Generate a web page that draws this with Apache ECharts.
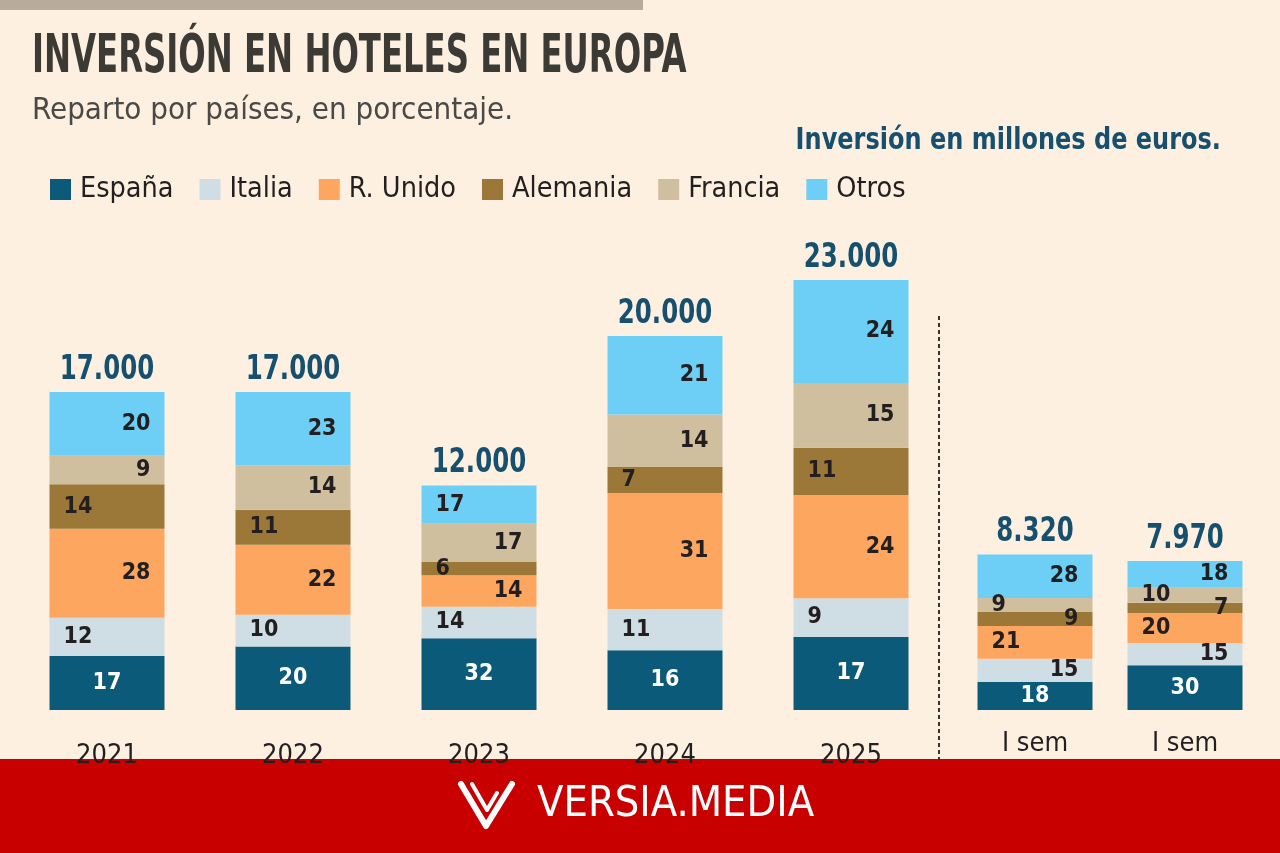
<!DOCTYPE html>
<html>
<head>
<meta charset="utf-8">
<title>Inversión en hoteles en Europa</title>
<script src="https://cdn.jsdelivr.net/npm/echarts@6/dist/echarts.min.js"></script>
<style>
  html, body { margin: 0; padding: 0; background: #fdf0e1; }
  #chart { width: 1280px; height: 853px; }
</style>
</head>
<body>
<div id="chart"></div>
<script>
(function () {
  "use strict";

  // Column labels: five full years, then the two first-half comparisons.
  var CATEGORIES = ["2021", "2022", "2023", "2024", "2025", "I sem", "I sem"];
  // Total investment per column, millions of euros.
  var TOTALS = [17000, 17000, 12000, 20000, 23000, 8320, 7970];

  // Share of each country, in percent, per column.
  var ESPANA   = [17, 20, 32, 16, 17, 18, 30];
  var ITALIA   = [12, 10, 14, 11,  9, 15, 15];
  var RUNIDO   = [28, 22, 14, 31, 24, 21, 20];
  var ALEMANIA = [14, 11,  6,  7, 11,  9,  7];
  var FRANCIA  = [ 9, 14, 17, 14, 15,  9, 10];
  var OTROS    = [20, 23, 17, 21, 24, 28, 18];

  var COUNTRIES = [
    { name: "España",   pct: ESPANA,   color: "#0c5a7a", text: "#ffffff" },
    { name: "Italia",   pct: ITALIA,   color: "#cfdee5", text: "#231f20" },
    { name: "R. Unido", pct: RUNIDO,   color: "#fca65f", text: "#231f20" },
    { name: "Alemania", pct: ALEMANIA, color: "#9b7838", text: "#231f20" },
    { name: "Francia",  pct: FRANCIA,  color: "#d0bf9f", text: "#231f20" },
    { name: "Otros",    pct: OTROS,    color: "#6dcff6", text: "#231f20" }
  ];

  // Where the percentage sits inside each segment (L / C / R), per country.
  var LABEL_SIDE = [
    "CCCCCCC",
    "LLLLLRR",
    "RRRRRLL",
    "LLLLLRR",
    "RRRRRLL",
    "RRLRRRR"
  ];

  // No real narrow face is installed; DejaVu Condensed is the closest, and
  // the headline texts get squeezed with scaleX to hit the original widths.
  var NARROW = "'Liberation Sans Narrow', 'DejaVu Sans Condensed', 'Roboto Condensed', sans-serif";
  var TEAL = "#16506e";
  var INK = "#231f20";
  var SPLIT = 5; // first five columns go in the left grid

  function fmtThousands(v) {
    return String(v).replace(/\B(?=(\d{3})+(?!\d))/g, ".");
  }

  function sidePos(ch) {
    if (ch === "L") return "insideLeft";
    if (ch === "R") return "insideRight";
    return "inside";
  }

  function barSeries(c, ci, gridIdx, from, to) {
    var data = [];
    for (var i = from; i < to; i++) {
      data.push({
        value: TOTALS[i] * c.pct[i] / 100,
        label: { position: sidePos(LABEL_SIDE[ci].charAt(i)) }
      });
    }
    return {
      name: c.name,
      type: "bar",
      stack: "g" + gridIdx,
      xAxisIndex: gridIdx,
      yAxisIndex: gridIdx,
      barWidth: 115,
      itemStyle: { color: c.color },
      label: {
        show: true,
        distance: 14,
        color: c.text,
        fontFamily: NARROW,
        fontWeight: "bold",
        fontSize: 23,
        formatter: function (p) { return c.pct[from + p.dataIndex]; }
      },
      emphasis: { disabled: true },
      data: data
    };
  }

  // Totals above each stack, drawn as squeezed text at the stack top.
  function totalSeries(gridIdx, from, to) {
    return {
      type: "custom",
      xAxisIndex: gridIdx,
      yAxisIndex: gridIdx,
      z: 5,
      renderItem: function (params, api) {
        var pt = api.coord([api.value(0), api.value(1)]);
        return {
          type: "text",
          x: pt[0],
          y: pt[1] - 5,
          scaleX: 0.8,
          style: {
            text: fmtThousands(api.value(1)),
            fill: TEAL,
            font: "bold 34px " + NARROW,
            align: "center",
            verticalAlign: "bottom"
          }
        };
      },
      data: TOTALS.slice(from, to).map(function (v, i) { return [i, v]; })
    };
  }

  var series = [];
  COUNTRIES.forEach(function (c, ci) {
    series.push(barSeries(c, ci, 0, 0, SPLIT));
    series.push(barSeries(c, ci, 1, SPLIT, CATEGORIES.length));
  });
  series.push(totalSeries(0, 0, SPLIT));
  series.push(totalSeries(1, SPLIT, CATEGORIES.length));

  function xAxis(gridIdx, cats, margin) {
    return {
      type: "category",
      gridIndex: gridIdx,
      data: cats,
      axisLine: { show: false },
      axisTick: { show: false },
      axisLabel: {
        margin: margin,
        color: INK,
        fontFamily: NARROW,
        fontSize: 27
      }
    };
  }

  function yAxis(gridIdx) {
    return {
      type: "value",
      gridIndex: gridIdx,
      min: 0,
      max: 30000,
      show: false
    };
  }

  function headText(str, x, y, font, fill, scaleX, align) {
    return {
      type: "text",
      x: x, y: y,
      scaleX: scaleX,
      style: { text: str, font: font, fill: fill, align: align || "left", verticalAlign: "top" }
    };
  }

  var chart = echarts.init(document.getElementById("chart"), null, { renderer: "canvas" });

  chart.setOption({
    backgroundColor: "#fdf0e1",
    animation: false,
    legend: {
      data: COUNTRIES.map(function (c) { return c.name; }),
      left: 45, top: 170,
      icon: "rect",
      itemWidth: 21, itemHeight: 21,
      itemGap: 26,
      selectedMode: false,
      textStyle: { color: INK, fontFamily: NARROW, fontSize: 28.5, padding: [0, 0, 0, 4] }
    },
    grid: [
      { left: 14, right: 336, top: 149, bottom: 143 },
      { left: 960, right: 20, top: 149, bottom: 143 }
    ],
    xAxis: [
      xAxis(0, CATEGORIES.slice(0, SPLIT), 32),
      xAxis(1, CATEGORIES.slice(SPLIT), 20)
    ],
    yAxis: [yAxis(0), yAxis(1)],
    series: series,
    graphic: [
      // top rule
      { type: "rect", shape: { x: 0, y: 0, width: 643, height: 10 }, style: { fill: "#b9ab99" } },
      headText("INVERSIÓN EN HOTELES EN EUROPA", 32, 31, "bold 54px " + NARROW, "#3b3a35", 0.665),
      headText("Reparto por países, en porcentaje.", 32, 95, "normal 31px " + NARROW, "#4a4946", 1),
      headText("Inversión en millones de euros.", 1221, 126, "bold 30px " + NARROW, TEAL, 0.89, "right"),
      // separator between yearly and half-year columns
      {
        type: "line", z: 1,
        shape: { x1: 939, y1: 316, x2: 939, y2: 760 },
        style: { stroke: "#333333", lineWidth: 2, lineDash: [4, 3] }
      },
      // publisher banner
      {
        type: "group", z: 100,
        children: [
          { type: "rect", shape: { x: 0, y: 759, width: 1280, height: 94 }, style: { fill: "#c80000" } },
          {
            type: "polyline",
            shape: { points: [[461, 784], [486, 826], [512, 784]] },
            style: { stroke: "#ffffff", lineWidth: 6, fill: null, lineCap: "round", lineJoin: "round" }
          },
          {
            type: "polyline",
            shape: { points: [[472, 784], [487, 810], [497, 793]] },
            style: { stroke: "#ffffff", lineWidth: 4, fill: null, lineCap: "round", lineJoin: "round" }
          },
          {
            type: "text",
            x: 537, y: 805,
            style: {
              text: "VERSIA.MEDIA",
              fill: "#ffffff",
              font: "normal 43px " + NARROW,
              verticalAlign: "middle",
              shadowColor: "rgba(0,0,0,0.35)", shadowBlur: 2, shadowOffsetX: 1, shadowOffsetY: 1
            }
          }
        ]
      }
    ]
  });

  window.addEventListener("resize", function () { chart.resize(); });
})();
</script>
</body>
</html>
